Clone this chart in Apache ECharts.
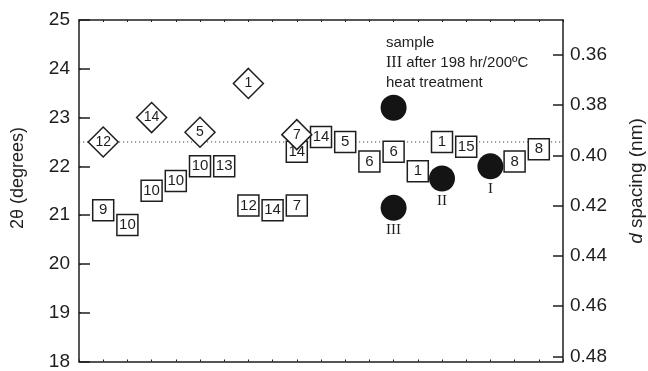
<!DOCTYPE html>
<html>
<head>
<meta charset="utf-8">
<script src="https://cdn.jsdelivr.net/npm/echarts@6/dist/echarts.min.js"></script>
<style>
  html, body { margin: 0; padding: 0; background: #fff; }
  #chart { width: 648px; height: 371px; }
</style>
</head>
<body>
<div id="chart"></div>
<script>
// Sample positions along the (unlabelled) horizontal axis and measured 2θ values
const squareX = [1, 2, 3, 4, 5, 6, 7, 8, 9, 9, 10, 11, 12, 13, 14, 15, 16, 18, 19];
const squareTheta = [21.1, 20.8, 21.5, 21.7, 22.0, 22.0, 21.2, 21.1, 21.2, 22.3, 22.6, 22.5, 22.1, 22.3, 21.9, 22.5, 22.4, 22.1, 22.35];
const squareLabels = ['9', '10', '10', '10', '10', '13', '12', '14', '7', '14', '14', '5', '6', '6', '1', '1', '15', '8', '8'];

const diamondX = [1, 3, 5, 7, 9];
const diamondTheta = [22.5, 23.0, 22.7, 23.7, 22.65];
const diamondLabels = ['12', '14', '5', '1', '7'];

const circleX = [13, 13, 15, 17];
const circleTheta = [23.2, 21.15, 21.75, 22.0];
const circleLabels = ['', 'III', 'II', 'I'];

// Reference level (dotted line)
const refTheta = 22.5;

// Tick values
const thetaTicks = [18, 19, 20, 21, 22, 23, 24, 25];
const dTicks = [0.36, 0.38, 0.40, 0.42, 0.44, 0.46, 0.48];

const SANS = '"Liberation Sans", Arial, Helvetica, sans-serif';
const SERIF = '"Liberation Serif", "Times New Roman", serif';
const INK = '#1e1e1e';

const zip = (xs, ys, ls) => xs.map((x, i) => ({ value: [x, ys[i]], name: ls[i] }));

const chart = echarts.init(document.getElementById('chart'), null, { renderer: 'canvas' });

const frameAxis = {
  type: 'value', min: 0, max: 20, interval: 1,
  axisLine: { show: true, onZero: false, lineStyle: { color: INK, width: 1.5 } },
  axisTick: { show: true, inside: true, length: 2, lineStyle: { color: INK, width: 1 } },
  axisLabel: { show: false },
  splitLine: { show: false }
};

chart.setOption({
  animation: false,
  backgroundColor: '#fff',
  grid: { left: 79, right: 85, top: 20, bottom: 8, containLabel: false },
  xAxis: [
    Object.assign({ position: 'bottom' }, frameAxis),
    Object.assign({ position: 'top' }, frameAxis)
  ],
  yAxis: [
    {
      type: 'value', position: 'left', min: thetaTicks[0], max: thetaTicks[thetaTicks.length - 1], interval: 1,
      axisLine: { show: true, onZero: false, lineStyle: { color: INK, width: 1.5 } },
      axisTick: { show: true, inside: true, length: 11, lineStyle: { color: INK, width: 1.5 } },
      axisLabel: { show: true, margin: 9, color: INK, fontSize: 19, fontFamily: SANS },
      splitLine: { show: false }
    },
    {
      type: 'value', position: 'right', inverse: true, min: 0.3461, max: 0.482,
      axisLine: { show: true, onZero: false, lineStyle: { color: INK, width: 1.5 } },
      axisTick: { show: true, inside: true, length: 10, customValues: dTicks, lineStyle: { color: INK, width: 1.5 } },
      axisLabel: {
        show: true, margin: 7, color: INK, fontSize: 19, fontFamily: SANS,
        customValues: dTicks, formatter: v => v.toFixed(2)
      },
      splitLine: { show: false }
    },
    {
      // small 2θ marks on the right edge of the frame
      type: 'value', position: 'right', min: 18, max: 25, interval: 1,
      axisLine: { show: false },
      axisTick: { show: true, inside: false, length: 2, lineStyle: { color: INK, width: 1 } },
      axisLabel: { show: false },
      splitLine: { show: false }
    }
  ],
  graphic: [
    {
      type: 'text', x: 18, y: 178, rotation: Math.PI / 2,
      style: { text: '2θ (degrees)', fill: INK, font: '18px ' + SANS, align: 'center', verticalAlign: 'middle' }
    },
    {
      type: 'text', x: 637, y: 181, rotation: Math.PI / 2,
      style: {
        text: '{i|d} spacing (nm)', fill: INK, align: 'center', verticalAlign: 'middle',
        font: '19px ' + SANS,
        rich: { i: { fontStyle: 'italic', fontSize: 19, fontFamily: SANS, fill: INK } }
      }
    },
    {
      type: 'text', x: 386, y: 33,
      style: {
        text: 'sample\n{r|III} after 198 hr/200ºC\nheat treatment',
        fill: INK, font: '15px ' + SANS, lineHeight: 20, verticalAlign: 'top',
        rich: { r: { fontFamily: SERIF, fontSize: 16, fill: INK, lineHeight: 20 } }
      }
    }
  ],
  series: [
    {
      type: 'line', xAxisIndex: 0, yAxisIndex: 0, silent: true, symbol: 'none',
      data: [[0, refTheta], [20, refTheta]],
      lineStyle: { color: '#444', width: 1, type: [1.2, 2.8] },
      z: 1
    },
    {
      type: 'scatter', xAxisIndex: 0, yAxisIndex: 0,
      symbol: 'rect', symbolSize: [21, 21],
      itemStyle: { color: '#fff', borderColor: INK, borderWidth: 1.5, opacity: 1 },
      label: { show: true, position: 'inside', formatter: p => p.name, color: INK, fontSize: 15, fontFamily: SANS },
      data: zip(squareX, squareTheta, squareLabels),
      z: 3
    },
    {
      type: 'scatter', xAxisIndex: 0, yAxisIndex: 0,
      symbol: 'diamond', symbolSize: [30, 30],
      itemStyle: { color: '#fff', borderColor: INK, borderWidth: 1.5, opacity: 1 },
      label: { show: true, position: 'inside', formatter: p => p.name, color: INK, fontSize: 14, fontFamily: SANS },
      data: zip(diamondX, diamondTheta, diamondLabels),
      z: 4
    },
    {
      type: 'scatter', xAxisIndex: 0, yAxisIndex: 0,
      symbol: 'circle', symbolSize: 26,
      itemStyle: { color: '#141414', opacity: 1 },
      label: { show: true, position: 'bottom', distance: 2, formatter: p => p.name, color: INK, fontSize: 15, fontFamily: SERIF },
      data: zip(circleX, circleTheta, circleLabels),
      z: 5
    }
  ]
});
</script>
</body>
</html>
